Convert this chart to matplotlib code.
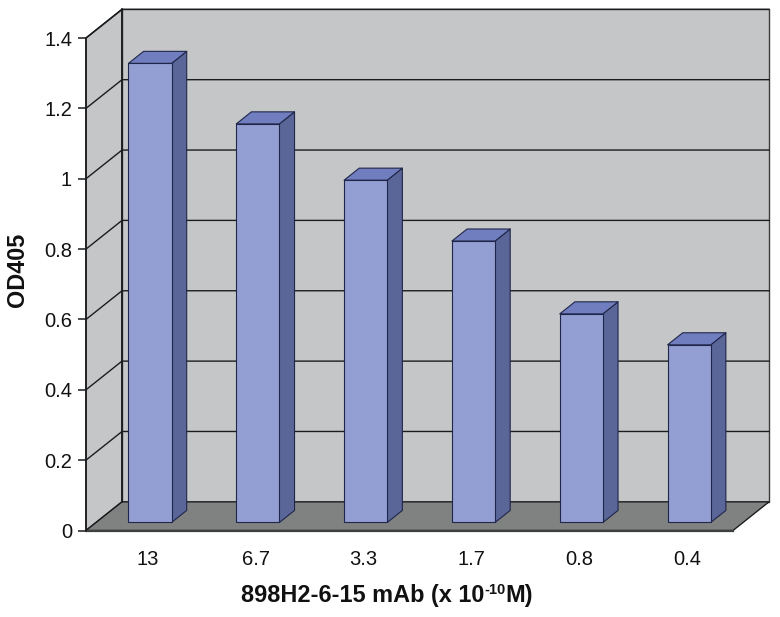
import matplotlib
matplotlib.use("Agg")
import matplotlib.pyplot as plt
from matplotlib.patches import Polygon

categories = ["13", "6.7", "3.3", "1.7", "0.8", "0.4"]
od405 = [1.305, 1.133, 0.973, 0.80, 0.593, 0.505]
y_ticks = [0, 0.2, 0.4, 0.6, 0.8, 1, 1.2, 1.4]
y_labels = ["0", "0.2", "0.4", "0.6", "0.8", "1", "1.2", "1.4"]

# oblique offset of the back wall, in data units
depth_x = 0.334
depth_y = 0.0815
bar_front = 0.28
bar_back = 0.70
bar_width = 0.40

plt.rcParams["font.family"] = ["Liberation Sans", "DejaVu Sans"]
line_col = "#1a1c1e"
bar_line = "#20264a"

fig = plt.figure(figsize=(7.8, 6.17), dpi=100)
ax = fig.add_axes([86 / 780, (617 - 530.5) / 617, 647 / 780, 492.5 / 617])
ax.set_xlim(0, 6)
ax.set_ylim(0, 1.4)
ax.patch.set_visible(False)
for side in ["top", "right", "bottom"]:
    ax.spines[side].set_visible(False)
ax.spines["left"].set_color(line_col)
ax.spines["left"].set_linewidth(1.1)
ax.spines["left"].set_zorder(6)


def add_poly(points, face, edge=line_col, lw=0.8, z=1):
    ax.add_patch(Polygon(points, closed=True, facecolor=face, edgecolor=edge,
                         linewidth=lw, zorder=z, clip_on=False, joinstyle="round"))


# walls and floor
top = y_ticks[-1]
add_poly([(0, 0), (depth_x, depth_y), (depth_x, top + depth_y), (0, top)], "#c5c6c7", lw=1.1)
add_poly([(depth_x, depth_y), (6 + depth_x, depth_y), (6 + depth_x, top + depth_y),
          (depth_x, top + depth_y)], "#c5c6c7", edge="#3a3c3e", lw=1.0)
add_poly([(0, 0), (6, 0), (6 + depth_x, depth_y), (depth_x, depth_y)], "#808282", lw=1.0, z=2)
ax.plot([0, 6], [0, 0], color="#3c3e40", lw=1.6, zorder=3, clip_on=False)
ax.plot([depth_x, depth_x], [depth_y, top + depth_y], color=line_col, lw=1.2, zorder=2, clip_on=False)

# gridlines run across both walls
for v in y_ticks[1:]:
    ax.plot([0, depth_x, 6 + depth_x], [v, v + depth_y, v + depth_y],
            color=line_col, lw=1.0, zorder=1.5, clip_on=False)

# bars: front face through ax.bar, sides and tops from the same values
x_pos = [i + 0.5 + depth_x * bar_front for i in range(len(od405))]
base = depth_y * bar_front
ax.bar(x_pos, od405, width=bar_width, bottom=base, color="#939fd2",
       edgecolor=bar_line, linewidth=0.8, zorder=5, clip_on=False)
ox = depth_x * (bar_back - bar_front)
oy = depth_y * (bar_back - bar_front)
for x, v in zip(x_pos, od405):
    r = x + bar_width / 2
    l = x - bar_width / 2
    h = base + v
    add_poly([(r, base), (r + ox, base + oy), (r + ox, h + oy), (r, h)], "#5a6698", edge=bar_line, z=4)
    add_poly([(l, h), (r, h), (r + ox, h + oy), (l + ox, h + oy)], "#707ebf", edge=bar_line, z=4)

ax.set_yticks(y_ticks, y_labels)
ax.set_xticks([i + 0.575 for i in range(len(categories))], categories)
ax.tick_params(axis="y", length=6, width=1.1, color=line_col, pad=4, labelsize=14.5, labelcolor="#111111")
ax.tick_params(axis="x", length=0, pad=14, labelsize=14.5, labelcolor="#111111")

fig.text(17.5 / 780, 1 - 270 / 617, "OD405", rotation=90, ha="center", va="center",
         fontsize=16.8, fontweight="bold", color="#111111")

# x label with a superscript exponent, placed piece by piece
label_y = 1 - 602 / 617
fig.canvas.draw()
rend = fig.canvas.get_renderer()
px = 241 / 780
for txt, size, raise_by in [("898H2-6-15 mAb (x 10", 16.9, 0), ("-10", 10.5, 8 / 617), ("M)", 16.9, 0)]:
    t = fig.text(px, label_y + raise_by, txt, ha="left", va="baseline", fontsize=size,
                 fontweight="bold", color="#111111")
    px = t.get_window_extent(rend).x1 / 780

fig.savefig("out.png", dpi=100)
